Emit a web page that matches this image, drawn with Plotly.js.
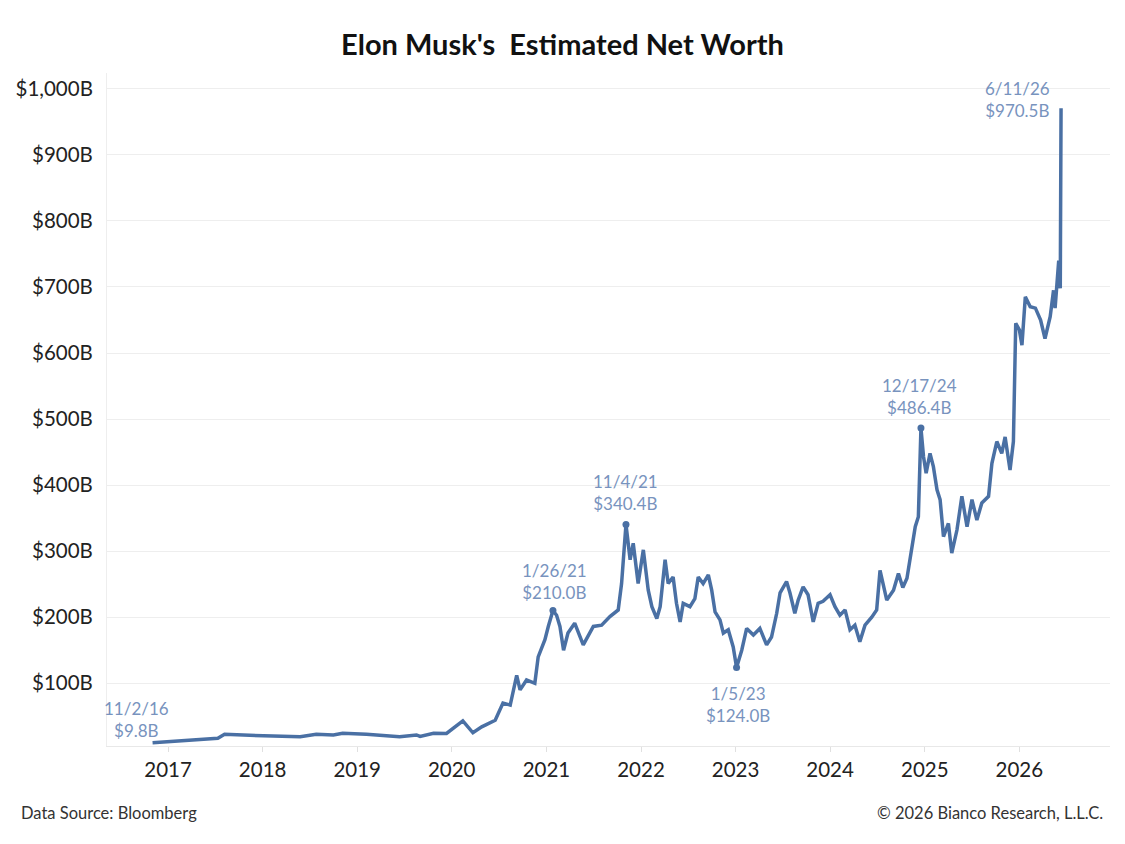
<!DOCTYPE html>
<html>
<head>
<meta charset="utf-8">
<script src="https://cdn.plot.ly/plotly-3.0.1.min.js"></script>
<style>
  html, body { margin: 0; padding: 0; background: #ffffff; }
  #chart { width: 1125px; height: 844px; }
</style>
</head>
<body>
<div id="chart"></div>
<script>
// Dates (YYYY-MM-DD) and estimated net worth ($B)
const dates = [
  "2016-11-02","2016-12-28","2017-03-01","2017-05-05","2017-07-12","2017-08-07","2017-11-13",
  "2018-02-10","2018-05-26","2018-07-27","2018-10-01","2018-11-06",
  "2019-02-06","2019-04-13","2019-06-14","2019-08-18","2019-09-01","2019-10-23","2019-12-12",
  "2020-02-13","2020-03-23","2020-04-26","2020-06-17","2020-07-17","2020-08-14","2020-09-08",
  "2020-09-21","2020-10-16","2020-11-17","2020-11-30","2020-12-26",
  "2021-01-08","2021-01-26","2021-02-09","2021-02-22","2021-03-08","2021-03-25","2021-04-20",
  "2021-05-23","2021-07-01","2021-08-02","2021-09-03","2021-10-05","2021-10-18","2021-11-04",
  "2021-11-20","2021-12-02","2021-12-21",
  "2022-01-10","2022-01-29","2022-02-12","2022-03-03","2022-03-16","2022-04-04","2022-04-16",
  "2022-05-05","2022-05-18","2022-06-01","2022-06-13","2022-07-09","2022-07-28","2022-08-10",
  "2022-08-29","2022-09-18","2022-10-01","2022-10-14","2022-11-02","2022-11-15","2022-12-04",
  "2022-12-23",
  "2023-01-05","2023-01-25","2023-02-13","2023-03-11","2023-04-05","2023-05-01","2023-05-20",
  "2023-06-09","2023-06-22","2023-07-17","2023-07-30","2023-08-18","2023-08-31","2023-09-19",
  "2023-10-08","2023-10-28","2023-11-16","2023-12-05",
  "2024-01-01","2024-01-20","2024-02-08","2024-02-28","2024-03-18","2024-04-06","2024-04-25",
  "2024-05-15","2024-06-10","2024-06-29","2024-07-12","2024-08-07","2024-09-02","2024-09-21",
  "2024-10-08","2024-10-24","2024-11-12","2024-11-25","2024-12-07","2024-12-17","2024-12-27",
  "2025-01-06","2025-01-21","2025-02-03","2025-02-17","2025-03-01","2025-03-14","2025-04-02",
  "2025-04-15","2025-05-05","2025-05-24","2025-06-13","2025-07-02","2025-07-21","2025-08-09",
  "2025-09-04","2025-09-17","2025-10-06","2025-10-25","2025-11-07","2025-11-26","2025-12-09",
  "2025-12-18",
  "2026-01-01","2026-01-11","2026-01-24","2026-02-12","2026-03-04","2026-03-24","2026-04-10",
  "2026-04-30","2026-05-13","2026-05-19","2026-06-02","2026-06-08","2026-06-11"
];
const netWorth = [
  9.8, 11.6, 13, 15, 16.7, 22.7, 21,
  20, 19, 22.7, 21.7, 24.3,
  22.7, 20.6, 19, 21.7, 19.5, 24.3, 24,
  43, 25, 34, 44, 70, 67, 112,
  90, 105, 100, 140, 166,
  186, 210.0, 203, 186, 150, 176, 191,
  158, 186, 188, 201, 211, 251, 340.4,
  287, 312, 251,
  302, 241, 216, 198, 216, 287, 251,
  261, 221, 193, 221, 216, 228, 261,
  251, 264, 241, 208, 196, 176, 181,
  155,
  124.0, 150, 183, 173, 183, 158, 170,
  206, 237, 254, 237, 206, 226, 246,
  234, 193, 221, 224,
  234, 216, 203, 211, 181, 188, 163,
  188, 200, 211, 271, 226, 241, 266,
  245, 259, 302, 337, 352, 486.4, 443,
  418, 448, 428, 393, 378, 322, 342,
  297, 332, 383, 337, 378, 347, 373,
  383, 433, 466, 448, 473, 423, 466,
  645,
  635, 612, 685, 670, 668, 650, 622,
  655, 695, 668, 740, 698, 970.5
];

// Labelled points
const labelDates  = ["2016-11-02","2021-01-26","2021-11-04","2023-01-05","2024-12-17","2026-06-11"];
const labelValues = [9.8, 210.0, 340.4, 124.0, 486.4, 970.5];
const labelTexts  = ["11/2/16<br>$9.8B","1/26/21<br>$210.0B","11/4/21<br>$340.4B",
                     "1/5/23<br>$124.0B","12/17/24<br>$486.4B","6/11/26<br>$970.5B"];

// Axis ticks
const yTickVals = [100,200,300,400,500,600,700,800,900,1000];
const yTickText = ["$100B","$200B","$300B","$400B","$500B","$600B","$700B","$800B","$900B","$1,000B"];
const xTickVals = ["2017-01-01","2018-01-01","2019-01-01","2020-01-01","2021-01-01",
                   "2022-01-01","2023-01-01","2024-01-01","2025-01-01","2026-01-01"];
const xTickText = ["2017","2018","2019","2020","2021","2022","2023","2024","2025","2026"];

const lineColor = "#4a70a4";
const labelColor = "#7893be";
const FONT = "Lato, 'Open Sans', sans-serif";

// Per-label placement (pixel offsets)
const placement = [
  {xs:-16, ys:0,  ya:"bottom"},
  {xs:2,   ys:6,  ya:"bottom"},
  {xs:0,   ys:8,  ya:"bottom"},
  {xs:1,   ys:-14,ya:"top"},
  {xs:-1,  ys:8,  ya:"bottom"},
  {xs:-44, ys:-15,ya:"bottom"}
];

const annotations = labelTexts.map((t, i) => ({
  x: labelDates[i], y: labelValues[i], xref: "x", yref: "y",
  text: t, showarrow: false, xanchor: "center", yanchor: placement[i].ya,
  xshift: placement[i].xs, yshift: placement[i].ys,
  font: {family: FONT, size: 17, color: labelColor}, align: "center"
}));

annotations.push({
  xref: "paper", yref: "paper", x: -0.088, y: -0.1, xanchor: "left", yanchor: "middle",
  text: "Data Source: Bloomberg", showarrow: false,
  font: {family: FONT, size: 16.5, color: "#333333"}
});
annotations.push({
  xref: "paper", yref: "paper", x: 0.995, y: -0.1, xanchor: "right", yanchor: "middle",
  text: "© 2026 Bianco Research, L.L.C.", showarrow: false,
  font: {family: FONT, size: 16.5, color: "#333333"}
});

const traces = [
  {
    x: dates, y: netWorth, type: "scatter", mode: "lines",
    line: {color: lineColor, width: 3.5},
    hoverinfo: "x+y"
  },
  {
    x: labelDates.slice(1, 5), y: labelValues.slice(1, 5), type: "scatter", mode: "markers",
    marker: {color: lineColor, size: 7}, hoverinfo: "skip"
  }
];

const layout = {
  width: 1125, height: 844,
  paper_bgcolor: "#ffffff", plot_bgcolor: "#ffffff",
  margin: {l: 107, r: 15, t: 73, b: 98},
  showlegend: false,
  font: {family: FONT, color: "#222222"},
  title: {
    text: "<b>Elon Musk's\u00a0 Estimated Net Worth</b>",
    x: 0.5, xanchor: "center", y: 0.947, yanchor: "middle",
    font: {family: FONT, size: 29, color: "#111111"}
  },
  xaxis: {
    type: "date",
    range: ["2016-05-10", "2026-12-17"],
    tickvals: xTickVals, ticktext: xTickText,
    tickfont: {family: FONT, size: 20.5, color: "#222222"},
    showgrid: false, zeroline: false,
    showline: true, linecolor: "#e8e8e8", linewidth: 1,
    ticks: "outside", ticklen: 5, tickcolor: "#e0e0e0",
    fixedrange: true
  },
  yaxis: {
    range: [5, 1024],
    tickvals: yTickVals, ticktext: yTickText,
    tickfont: {family: FONT, size: 20.5, color: "#222222"},
    showgrid: true, gridcolor: "#eeeeee", gridwidth: 1,
    zeroline: false,
    showline: true, linecolor: "#eeeeee", linewidth: 1,
    ticks: "", ticklabelstandoff: 9,
    fixedrange: true
  },
  annotations: annotations
};

Plotly.newPlot("chart", traces, layout, {displayModeBar: false, staticPlot: true});
</script>
</body>
</html>
